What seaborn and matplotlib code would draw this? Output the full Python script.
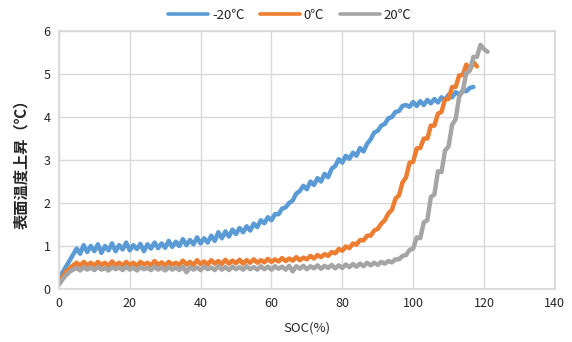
import matplotlib
matplotlib.use("Agg")
import matplotlib.pyplot as plt
import seaborn as sns
import pandas as pd

# Surface temperature rise vs SOC
series_names = ["-20℃", "0℃", "20℃"]
colors = ["#5B9BD5", "#ED7D31", "#A5A5A5"]

soc_m20 = list(range(0, 118))
temp_m20 = [
    0.20, 0.38, 0.52, 0.66, 0.80, 0.94, 0.82, 1.02, 0.86, 1.00,
    0.88, 1.04, 0.84, 1.00, 0.90, 1.06, 0.88, 1.02, 0.92, 1.08,
    0.90, 1.02, 0.93, 1.05, 0.88, 1.04, 0.94, 1.08, 0.95, 1.06,
    0.96, 1.12, 0.98, 1.10, 1.00, 1.16, 1.02, 1.14, 1.04, 1.20,
    1.06, 1.18, 1.08, 1.24, 1.12, 1.32, 1.18, 1.34, 1.22, 1.38,
    1.28, 1.42, 1.32, 1.46, 1.36, 1.52, 1.44, 1.60, 1.53, 1.67,
    1.60, 1.74, 1.74, 1.87, 1.90, 2.00, 2.06, 2.22, 2.28, 2.40,
    2.32, 2.50, 2.42, 2.58, 2.50, 2.68, 2.60, 2.80, 2.86, 3.02,
    2.94, 3.10, 3.03, 3.17, 3.10, 3.28, 3.20, 3.38, 3.48, 3.64,
    3.68, 3.80, 3.84, 3.97, 4.00, 4.12, 4.14, 4.26, 4.28, 4.24,
    4.35, 4.26, 4.37, 4.28, 4.40, 4.32, 4.42, 4.34, 4.46, 4.40,
    4.52, 4.46, 4.58, 4.52, 4.62, 4.60, 4.68, 4.70,
]

soc_0 = list(range(0, 119))
temp_0 = [
    0.18, 0.28, 0.40, 0.48, 0.55, 0.61, 0.54, 0.63, 0.55, 0.61,
    0.54, 0.63, 0.56, 0.61, 0.54, 0.64, 0.56, 0.61, 0.55, 0.63,
    0.56, 0.61, 0.54, 0.63, 0.57, 0.61, 0.55, 0.65, 0.56, 0.62,
    0.55, 0.63, 0.57, 0.61, 0.56, 0.66, 0.57, 0.63, 0.56, 0.67,
    0.58, 0.64, 0.57, 0.67, 0.59, 0.65, 0.58, 0.68, 0.59, 0.66,
    0.60, 0.68, 0.59, 0.67, 0.61, 0.69, 0.61, 0.67, 0.62, 0.70,
    0.63, 0.69, 0.64, 0.72, 0.65, 0.71, 0.66, 0.74, 0.67, 0.73,
    0.69, 0.77, 0.71, 0.79, 0.74, 0.81, 0.77, 0.86, 0.83, 0.93,
    0.89, 0.99, 0.95, 1.06, 1.03, 1.14, 1.13, 1.24, 1.24, 1.36,
    1.40, 1.52, 1.60, 1.76, 1.84, 2.10, 2.18, 2.48, 2.60, 2.94,
    2.96, 3.27, 3.28, 3.50, 3.50, 3.80, 3.80, 4.08, 4.12, 4.42,
    4.42, 4.70, 4.70, 4.97, 4.98, 5.22, 5.10, 5.28, 5.18,
]

soc_20 = list(range(0, 122))
temp_20 = [
    0.10, 0.22, 0.32, 0.40, 0.45, 0.49, 0.43, 0.51, 0.45, 0.50,
    0.44, 0.51, 0.45, 0.49, 0.43, 0.51, 0.46, 0.50, 0.44, 0.52,
    0.45, 0.50, 0.43, 0.51, 0.46, 0.49, 0.44, 0.52, 0.45, 0.50,
    0.43, 0.51, 0.45, 0.50, 0.44, 0.52, 0.39, 0.51, 0.45, 0.50,
    0.44, 0.52, 0.46, 0.50, 0.44, 0.53, 0.45, 0.51, 0.44, 0.52,
    0.46, 0.51, 0.45, 0.53, 0.46, 0.51, 0.45, 0.53, 0.46, 0.52,
    0.45, 0.53, 0.47, 0.52, 0.45, 0.54, 0.41, 0.53, 0.47, 0.54,
    0.46, 0.53, 0.48, 0.55, 0.47, 0.54, 0.49, 0.56, 0.48, 0.55,
    0.49, 0.57, 0.51, 0.58, 0.52, 0.59, 0.53, 0.61, 0.55, 0.61,
    0.56, 0.63, 0.59, 0.65, 0.62, 0.69, 0.69, 0.77, 0.79, 0.91,
    0.94, 1.20, 1.18, 1.55, 1.60, 2.14, 2.20, 2.74, 2.72, 3.22,
    3.32, 3.82, 3.95, 4.48, 4.60, 5.02, 5.08, 5.40, 5.40, 5.68,
    5.58, 5.52,
]

# build one long table for seaborn
df = pd.concat([
    pd.DataFrame({"SOC": soc_m20, "temp": temp_m20, "cond": series_names[0]}),
    pd.DataFrame({"SOC": soc_0, "temp": temp_0, "cond": series_names[1]}),
    pd.DataFrame({"SOC": soc_20, "temp": temp_20, "cond": series_names[2]}),
], ignore_index=True)

sns.set_theme(style="whitegrid")
plt.rcParams["font.family"] = ["Noto Sans CJK JP", "DejaVu Sans"]

fig = plt.figure(figsize=(5.72, 3.42), dpi=100)
ax = fig.add_axes([0.103, 0.155, 0.867, 0.754])

sns.lineplot(data=df, x="SOC", y="temp", hue="cond", hue_order=series_names,
             palette=colors, linewidth=3.2, ax=ax, legend=False, sort=False)

ax.set_xlim(0, 140)
ax.set_ylim(0, 6)
ax.set_xticks(range(0, 141, 20))
ax.set_yticks(range(0, 7))
ax.tick_params(axis="both", length=0, labelsize=9, colors="#262626", pad=6)
ax.grid(color="#D9D9D9", linewidth=1)
for s in ax.spines.values():
    s.set_color("#D9D9D9")

ax.set_xlabel("SOC(%)", fontsize=9.5, color="#262626", labelpad=8)
ax.set_ylabel("表面温度上昇（℃）", fontsize=11, fontweight="bold",
              color="#262626", labelpad=10)

# legend on top
handles = [plt.Line2D([], [], color=c, linewidth=2.6) for c in colors]
fig.legend(handles, series_names, loc="center", bbox_to_anchor=(0.507, 0.955),
           ncol=3, frameon=False, fontsize=9.5, handlelength=3,
           columnspacing=1.2, handletextpad=0.3, labelcolor="#262626")

fig.savefig("out.png", dpi=100)
